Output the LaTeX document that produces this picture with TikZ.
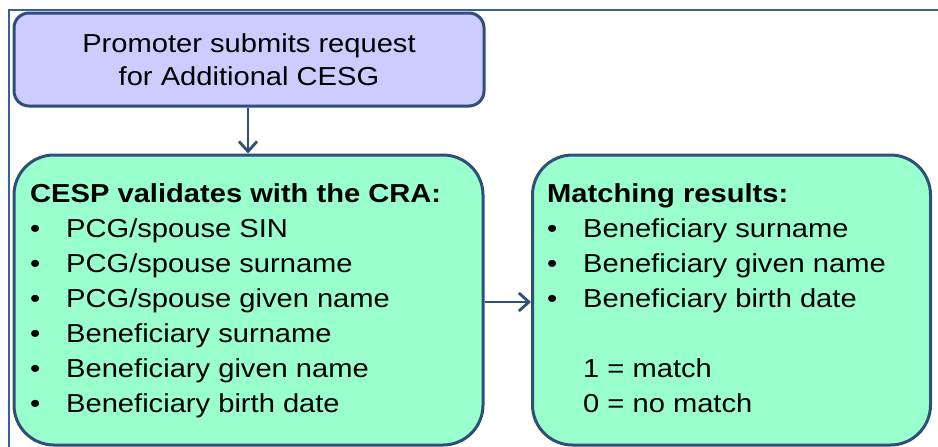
\documentclass[tikz,border=0pt]{standalone}
\usepackage{fontspec}
\setmainfont{Liberation Sans}[FakeStretch=1.12]
\usetikzlibrary{arrows.meta}
\definecolor{edgeblue}{HTML}{2F4F7A}
\definecolor{framecol}{HTML}{3A5F9A}
\definecolor{lavender}{HTML}{CCCCFF}
\definecolor{mint}{HTML}{99FFCC}
\tikzset{
  flowbox/.style={draw=edgeblue, line width=3pt, inner sep=0pt},
  topbox/.style={flowbox, fill=lavender, rounded corners=15pt},
  greenbox/.style={flowbox, fill=mint, rounded corners=40pt},
  txt/.style={inner sep=0pt, align=left, font=\fontsize{26}{35}\selectfont},
  conn/.style={draw=edgeblue, line width=2.8pt, -{Straight Barb[length=10pt,width=18pt,line width=2.8pt]}}
}
\newcommand{\bul}{\makebox[36pt][l]{\textbullet}}
\begin{document}
\begin{tikzpicture}[x=1pt,y=-1pt]
\useasboundingbox (0,0) rectangle (938,447);
% outer frame
\draw[framecol, line width=2.4pt] (9,460) -- (9,10) -- (950,10);
% boxes
\node[topbox, minimum width=470pt, minimum height=93pt] (req) at (249,59.5) {};
\node[greenbox, minimum width=469pt, minimum height=290pt] (cesp) at (248.5,300) {};
\node[greenbox, minimum width=398pt, minimum height=290pt] (match) at (531,300) [anchor=west] {};
% texts (base anchor = baseline of last line)
\node[txt, align=center, anchor=base, font=\fontsize{26}{33}\selectfont] (reqtxt) at (249,85) {Promoter submits request\\for Additional CESG};
\node[txt, anchor=base west] (cesptxt) at (30,412) {\textbf{CESP validates with the CRA:}\\
\bul PCG/spouse SIN\\
\bul PCG/spouse surname\\
\bul PCG/spouse given name\\
\bul Beneficiary surname\\
\bul Beneficiary given name\\
\bul Beneficiary birth date};
\node[txt, anchor=base west] (matchtxt) at (547,412) {\textbf{Matching results:}\\
\bul Beneficiary surname\\
\bul Beneficiary given name\\
\bul Beneficiary birth date\\[35pt]
\makebox[36pt][l]{}1 = match\\
\makebox[36pt][l]{}0 = no match};
% connectors
\draw[conn] (req.south -| 248,0) -- (cesp.north -| 248,0);
\draw[conn] (cesp.east |- 0,302) -- (match.west |- 0,302);
\end{tikzpicture}
\end{document}
